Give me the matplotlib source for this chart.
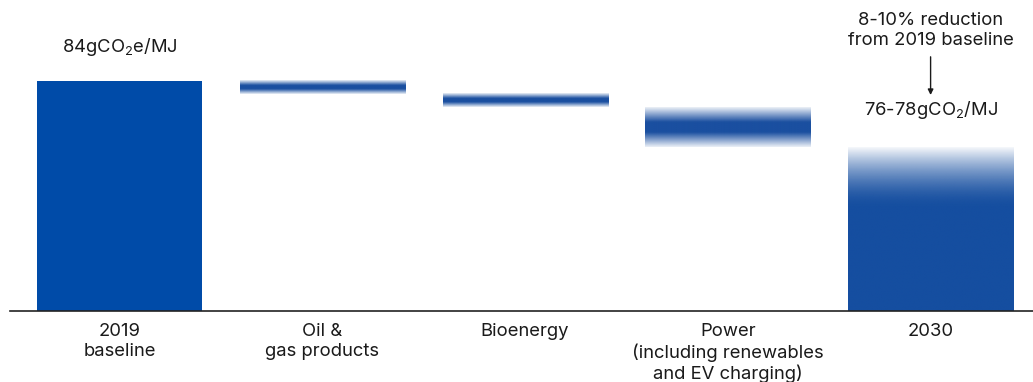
import numpy as np
import matplotlib
matplotlib.use("Agg")
import matplotlib.pyplot as plt
from matplotlib.colors import to_rgb
from matplotlib.transforms import offset_copy

plt.rcParams['font.family'] = ['Inter', 'DejaVu Sans']

# Waterfall data (gCO2e/MJ)
categories = ["2019\nbaseline", "Oil &\ngas products", "Bioenergy",
              "Power\n(including renewables\nand EV charging)", "2030"]
baseline_2019 = 84.0
step_changes = [-1.2, -1.2, -3.6]       # oil & gas, bioenergy, power
target_2030 = 78.0                       # upper end of the 76-78 range
baseline_label = "84gCO$_{\\mathregular{2}}$e/MJ"
target_label = "76-78gCO$_{\\mathregular{2}}$/MJ"
reduction_label = "8-10% reduction\nfrom 2019 baseline"

c_base = "#004ba8"
c_step = "#1a4fa0"
c_2030 = "#154ea0"
text_c = "#1a1a1a"
fs = 13.3

fig = plt.figure(figsize=(10.33, 3.82), dpi=100)
ax = fig.add_axes([10 / 1033, 1 - 311 / 382, 1 - 10 / 1033, 311 / 382])

y_min, y_max = 63.1, 91.37
x_min, x_max = -0.54, 4.505
width = 0.814
x = np.arange(len(categories))


def gradient(ax, x0, x1, y0, y1, color, alpha_profile):
    """Fill a rectangle with a vertical alpha gradient (profile runs y0 -> y1)."""
    img = np.zeros((len(alpha_profile), 1, 4))
    img[..., :3] = to_rgb(color)
    img[:, 0, 3] = alpha_profile
    ax.imshow(img, extent=[x0, x1, y0, y1], origin="lower",
              aspect="auto", interpolation="bilinear", zorder=2)


# 2019 baseline bar
ax.bar(x[0], baseline_2019 - y_min, bottom=y_min, width=width,
       color=c_base, zorder=2)

# Fuzzy floating bands for each reduction step
level = baseline_2019
for i, d in enumerate(step_changes, start=1):
    lo, hi = level + d, level
    t = np.linspace(-1, 1, 300)
    prof = 0.08 + 0.92 * np.clip(1.35 * (1 - np.abs(t)), 0, 1)
    gradient(ax, x[i] - width / 2, x[i] + width / 2, lo, hi, c_step, prof)
    level = lo

# 2030 bar: solid body that fades out towards its top value
fade_start = 72.7
yy = np.linspace(y_min, target_2030, 600)
u = np.clip((target_2030 - yy) / (target_2030 - fade_start), 0, 1)
prof = 0.04 + 0.96 * (1 - (1 - u) ** 1.6)
gradient(ax, x[4] - width / 2, x[4] + width / 2, y_min, target_2030,
         c_2030, prof)

# Annotations
ax.annotate(baseline_label, (x[0], baseline_2019), xytext=(0, 24.5),
            textcoords="offset points", ha="center", va="center",
            fontsize=fs, color=text_c)
ax.annotate(target_label, (x[4], target_2030), xytext=(0, 26.6),
            textcoords="offset points", ha="center", va="center",
            fontsize=fs, color=text_c)
ax.annotate(reduction_label, (x[4], target_2030), xytext=(0, 84),
            textcoords="offset points", ha="center", va="center",
            fontsize=fs, color=text_c, linespacing=1.2)
ax.annotate("",
            xy=(x[4], target_2030),
            xycoords=offset_copy(ax.transData, fig=fig, y=37.5, units="points"),
            xytext=(x[4], target_2030),
            textcoords=offset_copy(ax.transData, fig=fig, y=65, units="points"),
            arrowprops=dict(arrowstyle="-|>", color=text_c, lw=1.0,
                            mutation_scale=8, shrinkA=0, shrinkB=0))

ax.set_xlim(x_min, x_max)
ax.set_ylim(y_min, y_max)
ax.set_xticks(x)
ax.set_xticklabels(categories, fontsize=fs, color=text_c, linespacing=1.2)
ax.tick_params(axis="x", length=0, pad=9)
ax.set_yticks([])
for s in ("top", "right", "left"):
    ax.spines[s].set_visible(False)
ax.spines["bottom"].set_color("#222222")
ax.spines["bottom"].set_linewidth(1.2)
ax.spines["bottom"].set_zorder(3)

fig.savefig("out.png", dpi=100)
